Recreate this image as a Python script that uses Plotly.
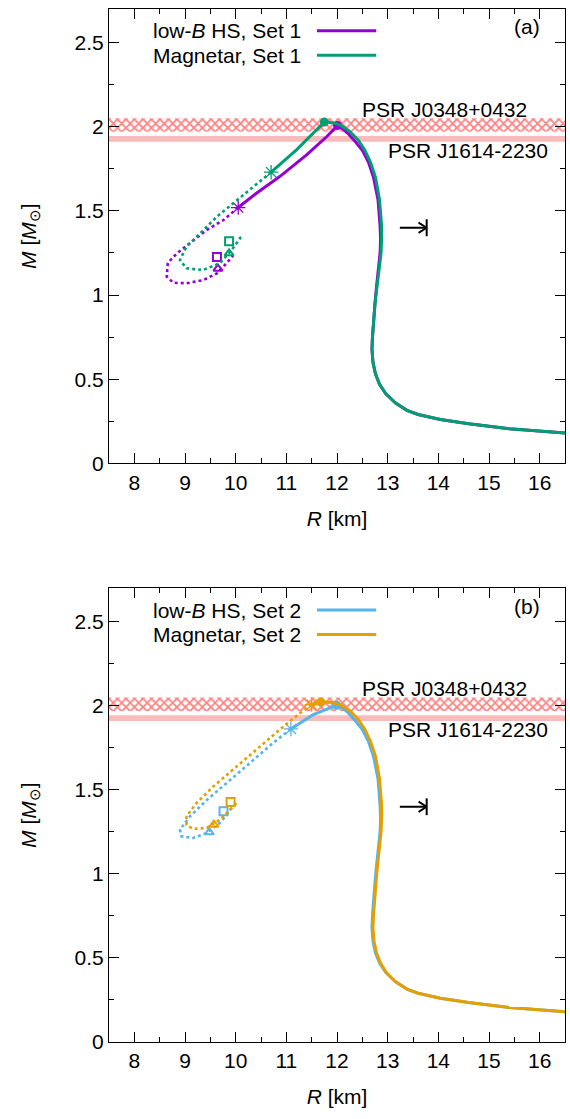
import plotly.graph_objects as go

# ---------------- data ----------------
# observational bands (solar masses)
psr_j0348 = [1.97, 2.05]
psr_j1614 = [1.911, 1.945]
x_range = [7.5, 16.5]
y_range = [0.0, 2.7]

# ---- Set 1 : low-B HS (purple) ----
s1_hs_outer_R = [16.5, 15.4, 14.6, 14.04, 13.6, 13.38, 13.15, 12.96, 12.84, 12.76, 12.71, 12.69, 12.70, 12.72,
                 12.75, 12.78, 12.82, 12.85, 12.86, 12.85, 12.81, 12.72, 12.62, 12.50, 12.38, 12.22, 12.10, 12.01]
s1_hs_outer_M = [0.18, 0.205, 0.235, 0.26, 0.29, 0.315, 0.36, 0.415, 0.47, 0.53, 0.60, 0.68, 0.75, 0.85,
                 0.95, 1.05, 1.15, 1.25, 1.33, 1.41, 1.565, 1.70, 1.79, 1.86, 1.905, 1.96, 1.99, 2.008]
s1_hs_inner_R = [12.01, 11.80, 11.40, 10.87, 10.41, 10.05]
s1_hs_inner_M = [2.008, 1.942, 1.833, 1.704, 1.605, 1.52]
s1_hs_unst_R = [10.05, 9.76, 9.43, 9.10, 8.84, 8.66, 8.64, 8.77, 9.03, 9.36, 9.63, 9.82, 9.95]
s1_hs_unst_M = [1.52, 1.446, 1.387, 1.308, 1.248, 1.19, 1.109, 1.073, 1.07, 1.089, 1.129, 1.189, 1.235]
s1_hs_max = [12.01, 2.008]
s1_hs_star = [10.05, 1.52]
s1_hs_square = [9.63, 1.226]
s1_hs_triangle = [9.65, 1.157]

# ---- Set 1 : Magnetar (green) ----
s1_mag_outer_R = [16.5, 15.4, 14.6, 14.04, 13.6, 13.38, 13.15, 12.96, 12.84, 12.76, 12.71, 12.69, 12.70, 12.72,
                  12.75, 12.79, 12.83, 12.87, 12.88, 12.88, 12.84, 12.76, 12.66, 12.55, 12.42, 12.26, 12.08, 11.95, 11.75]
s1_mag_outer_M = [0.18, 0.205, 0.235, 0.26, 0.29, 0.315, 0.36, 0.415, 0.47, 0.53, 0.60, 0.68, 0.75, 0.85,
                  0.95, 1.05, 1.15, 1.25, 1.33, 1.41, 1.565, 1.70, 1.79, 1.86, 1.92, 1.97, 2.008, 2.022, 2.028]
s1_mag_inner_R = [11.75, 11.60, 11.20, 10.70]
s1_mag_inner_M = [2.028, 1.982, 1.863, 1.73]
s1_mag_unst_R = [10.70, 10.35, 10.02, 9.63, 9.30, 9.03, 8.90, 9.03, 9.36, 9.69, 9.92, 10.09, 10.06]
s1_mag_unst_M = [1.73, 1.645, 1.565, 1.466, 1.367, 1.288, 1.208, 1.159, 1.149, 1.189, 1.268, 1.338, 1.35]
s1_mag_max = [11.75, 2.028]
s1_mag_star = [10.70, 1.73]
s1_mag_square = [9.87, 1.32]
s1_mag_triangle = [9.87, 1.248]

# ---- Set 2 : low-B HS (blue) ----
s2_hs_outer_R = [16.5, 15.4, 14.6, 14.04, 13.6, 13.38, 13.15, 12.96, 12.84, 12.76, 12.71, 12.69, 12.70, 12.72,
                 12.75, 12.78, 12.82, 12.85, 12.86, 12.85, 12.81, 12.72, 12.62, 12.50, 12.38, 12.22, 12.10, 11.99]
s2_hs_outer_M = [0.18, 0.205, 0.235, 0.26, 0.29, 0.315, 0.36, 0.415, 0.47, 0.53, 0.60, 0.68, 0.75, 0.85,
                 0.95, 1.05, 1.15, 1.25, 1.33, 1.41, 1.565, 1.70, 1.79, 1.86, 1.905, 1.96, 1.99, 2.004]
s2_hs_inner_R = [11.99, 11.53, 11.09]
s2_hs_inner_M = [2.004, 1.948, 1.863]
s2_hs_unst_R = [11.09, 10.74, 10.28, 9.82, 9.43, 9.10, 8.90, 8.93, 9.16, 9.43, 9.69, 9.85, 9.92]
s2_hs_unst_M = [1.863, 1.78, 1.66, 1.54, 1.44, 1.343, 1.264, 1.224, 1.214, 1.244, 1.304, 1.363, 1.393]
s2_hs_max = [11.99, 2.004]
s2_hs_star = [11.09, 1.863]
s2_hs_square = [9.76, 1.373]
s2_hs_triangle = [9.48, 1.248]

# ---- Set 2 : Magnetar (orange) ----
s2_mag_outer_R = [16.5, 15.4, 14.6, 14.04, 13.6, 13.38, 13.15, 12.97, 12.86, 12.78, 12.73, 12.71, 12.72, 12.74,
                  12.77, 12.80, 12.84, 12.87, 12.88, 12.88, 12.84, 12.76, 12.66, 12.55, 12.42, 12.26, 12.08, 11.90, 11.68]
s2_mag_outer_M = [0.18, 0.205, 0.235, 0.26, 0.29, 0.315, 0.36, 0.415, 0.47, 0.53, 0.60, 0.68, 0.75, 0.85,
                  0.95, 1.05, 1.15, 1.25, 1.33, 1.41, 1.565, 1.70, 1.79, 1.86, 1.92, 1.97, 2.005, 2.02, 2.024]
s2_mag_inner_R = [11.68, 11.50]
s2_mag_inner_M = [2.024, 2.008]
s2_mag_unst_R = [11.50, 11.27, 10.87, 10.41, 9.95, 9.56, 9.23, 9.03, 9.03, 9.16, 9.43, 9.69, 9.89, 10.02]
s2_mag_unst_M = [2.008, 1.958, 1.859, 1.74, 1.621, 1.521, 1.423, 1.343, 1.293, 1.268, 1.274, 1.323, 1.383, 1.423]
s2_mag_max = [11.68, 2.024]
s2_mag_star = [11.50, 2.008]
s2_mag_square = [9.90, 1.429]
s2_mag_triangle = [9.57, 1.293]

# stability-limit arrow (R from -> to, at mass)
arrow_R = [13.24, 13.77]
arrow_M = 1.40

legend_labels = [["low-<i>B</i> HS, Set 1", "Magnetar, Set 1"],
                 ["low-<i>B</i> HS, Set 2", "Magnetar, Set 2"]]
panel_tags = ["(a)", "(b)"]
psr_labels = ["PSR J0348+0432", "PSR J1614-2230"]
x_ticks = [8, 9, 10, 11, 12, 13, 14, 15, 16]
y_ticks = [0, 0.5, 1, 1.5, 2, 2.5]

PURPLE = "#9400D3"
GREEN = "#009E73"
BLUE = "#56B4E9"
ORANGE = "#E69F00"
FONT = "Liberation Sans"
FS = 21

fig = go.Figure()


def add_bands(xa, ya):
    fig.add_trace(go.Scatter(
        x=[x_range[0], x_range[1], x_range[1], x_range[0]],
        y=[psr_j1614[0], psr_j1614[0], psr_j1614[1], psr_j1614[1]],
        fill="toself", fillcolor="rgba(249,188,188,1)", line=dict(width=0),
        mode="lines", xaxis=xa, yaxis=ya, hoverinfo="skip", showlegend=False))
    fig.add_trace(go.Scatter(
        x=[x_range[0], x_range[1], x_range[1], x_range[0]],
        y=[psr_j0348[0], psr_j0348[0], psr_j0348[1], psr_j0348[1]],
        fill="toself", fillcolor="rgba(255,255,255,0)",
        fillpattern=dict(shape="x", fgcolor="#ff0000", bgcolor="rgba(255,255,255,0)",
                         size=6, solidity=0.5, fillmode="overlay"),
        line=dict(width=0), mode="lines", xaxis=xa, yaxis=ya, hoverinfo="skip", showlegend=False))


def add_series(col, oR, oM, iR, iM, uR, uM, mx, st, sq, tr, xa, ya):
    fig.add_trace(go.Scatter(x=uR, y=uM, mode="lines", line=dict(color=col, width=2.6, dash="dot"),
                             xaxis=xa, yaxis=ya, showlegend=False))
    fig.add_trace(go.Scatter(x=oR + iR, y=oM + iM, mode="lines", line=dict(color=col, width=3),
                             xaxis=xa, yaxis=ya, showlegend=False))
    fig.add_trace(go.Scatter(x=[mx[0]], y=[mx[1]], mode="markers",
                             marker=dict(color=col, size=9, symbol="circle"),
                             xaxis=xa, yaxis=ya, showlegend=False))
    fig.add_trace(go.Scatter(x=[st[0]], y=[st[1]], mode="markers",
                             marker=dict(color=col, size=12, symbol="asterisk-open", line=dict(color=col, width=1.3)),
                             xaxis=xa, yaxis=ya, showlegend=False))
    fig.add_trace(go.Scatter(x=[sq[0]], y=[sq[1]], mode="markers",
                             marker=dict(color=col, size=8, symbol="square-open", line=dict(color=col, width=2)),
                             xaxis=xa, yaxis=ya, showlegend=False))
    fig.add_trace(go.Scatter(x=[tr[0]], y=[tr[1]], mode="markers",
                             marker=dict(color=col, size=8, symbol="triangle-up-open", line=dict(color=col, width=2)),
                             xaxis=xa, yaxis=ya, showlegend=False))


add_bands("x", "y")
add_series(PURPLE, s1_hs_outer_R, s1_hs_outer_M, s1_hs_inner_R, s1_hs_inner_M, s1_hs_unst_R, s1_hs_unst_M,
           s1_hs_max, s1_hs_star, s1_hs_square, s1_hs_triangle, "x", "y")
add_series(GREEN, s1_mag_outer_R, s1_mag_outer_M, s1_mag_inner_R, s1_mag_inner_M, s1_mag_unst_R, s1_mag_unst_M,
           s1_mag_max, s1_mag_star, s1_mag_square, s1_mag_triangle, "x", "y")
add_bands("x2", "y2")
add_series(BLUE, s2_hs_outer_R, s2_hs_outer_M, s2_hs_inner_R, s2_hs_inner_M, s2_hs_unst_R, s2_hs_unst_M,
           s2_hs_max, s2_hs_star, s2_hs_square, s2_hs_triangle, "x2", "y2")
add_series(ORANGE, s2_mag_outer_R, s2_mag_outer_M, s2_mag_inner_R, s2_mag_inner_M, s2_mag_unst_R, s2_mag_unst_M,
           s2_mag_max, s2_mag_star, s2_mag_square, s2_mag_triangle, "x2", "y2")

axis_common = dict(showline=True, linecolor="black", linewidth=1.2, mirror="allticks", ticks="inside",
                   ticklen=10, tickwidth=1.2, tickcolor="black", showgrid=False, zeroline=False,
                   tickfont=dict(family=FONT, size=FS, color="black"))
xaxis_common = dict(axis_common, range=x_range, tickvals=x_ticks,
                    minor=dict(dtick=0.5, ticks="inside", ticklen=5, tickcolor="black", tickwidth=1.2),
                    title=dict(text="<i>R</i> [km]", font=dict(family=FONT, size=FS, color="black"), standoff=18))
yaxis_common = dict(axis_common, range=y_range, tickvals=y_ticks,
                    minor=dict(dtick=0.25, ticks="inside", ticklen=5, tickcolor="black", tickwidth=1.2),
                    title=dict(text="<i>M</i> [<i>M</i><sub>⊙</sub>]", font=dict(family=FONT, size=FS, color="black"),
                               standoff=32))

fig.update_layout(
    width=570, height=1119,
    margin=dict(l=109, r=5, t=9, b=77),
    paper_bgcolor="white", plot_bgcolor="white",
    showlegend=False,
    font=dict(family=FONT, size=FS, color="black"),
    xaxis=dict(xaxis_common, anchor="y"),
    yaxis=dict(yaxis_common, domain=[0.5602, 1.0], anchor="x"),
    xaxis2=dict(xaxis_common, anchor="y2"),
    yaxis2=dict(yaxis_common, domain=[0.0, 0.4392], anchor="x2"),
)

annotations = []
shapes = []
for p, (xa, ya) in enumerate([("x", "y"), ("x2", "y2")]):
    cols = [[PURPLE, GREEN], [BLUE, ORANGE]][p]
    for k, yy in enumerate([0.952, 0.898]):
        annotations.append(dict(text=legend_labels[p][k], xref=f"{xa} domain", yref=f"{ya} domain",
                                x=0.425, y=yy, xanchor="right", yanchor="middle", showarrow=False,
                                font=dict(family=FONT, size=FS, color="black")))
        shapes.append(dict(type="line", xref=f"{xa} domain", yref=f"{ya} domain",
                           x0=0.456, x1=0.586, y0=yy, y1=yy, line=dict(color=cols[k], width=3)))
    annotations.append(dict(text=panel_tags[p], xref=f"{xa} domain", yref=f"{ya} domain",
                            x=0.916, y=0.961, xanchor="center", yanchor="middle", showarrow=False,
                            font=dict(family=FONT, size=FS, color="black")))
    annotations.append(dict(text=psr_labels[0], xref=xa, yref=ya, x=14.13, y=2.105,
                            xanchor="center", yanchor="middle", showarrow=False,
                            font=dict(family=FONT, size=FS, color="black")))
    annotations.append(dict(text=psr_labels[1], xref=xa, yref=ya, x=14.58, y=1.86,
                            xanchor="center", yanchor="middle", showarrow=False,
                            font=dict(family=FONT, size=FS, color="black")))
    # arrow "->|"
    a0, a1 = arrow_R
    shapes.append(dict(type="line", xref=xa, yref=ya, x0=a0, x1=a1, y0=arrow_M, y1=arrow_M,
                       line=dict(color="black", width=2)))
    shapes.append(dict(type="line", xref=xa, yref=ya, x0=a1 - 0.16, x1=a1, y0=arrow_M + 0.03, y1=arrow_M,
                       line=dict(color="black", width=2)))
    shapes.append(dict(type="line", xref=xa, yref=ya, x0=a1 - 0.16, x1=a1, y0=arrow_M - 0.03, y1=arrow_M,
                       line=dict(color="black", width=2)))
    shapes.append(dict(type="line", xref=xa, yref=ya, x0=a1, x1=a1, y0=arrow_M - 0.05, y1=arrow_M + 0.05,
                       line=dict(color="black", width=2)))

fig.update_layout(annotations=annotations, shapes=shapes)
fig.write_html("out.html")
